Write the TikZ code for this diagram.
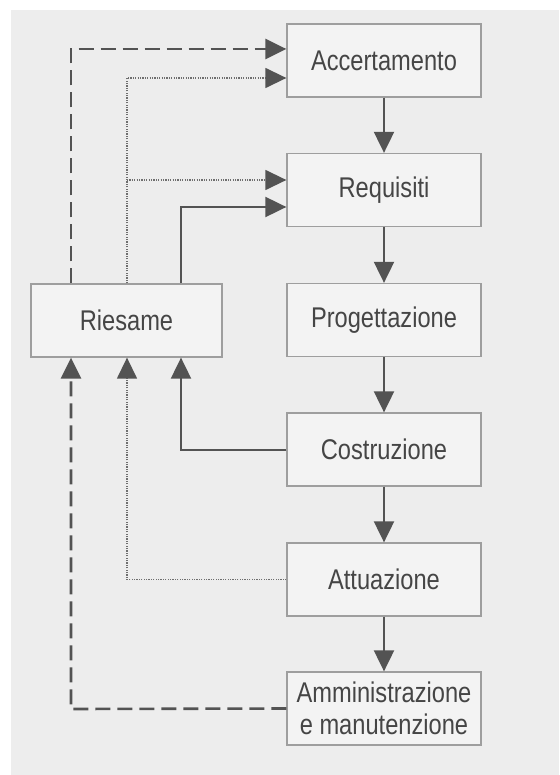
\documentclass[tikz,border=0pt]{standalone}
\usepackage{fontspec}
\setmainfont[FakeStretch=0.83]{Liberation Sans}
\usetikzlibrary{arrows.meta}
\definecolor{pagegrey}{HTML}{EDEDED}
\definecolor{boxfill}{HTML}{F3F3F3}
\definecolor{boxline}{HTML}{9E9E9E}
\definecolor{inkgrey}{HTML}{535353}
\definecolor{dotgrey}{HTML}{6E6E6E}
\definecolor{textgrey}{HTML}{454545}
\begin{document}
\begin{tikzpicture}[x=1pt,y=-1pt,
  phase/.style={draw=boxline, line width=1.3pt, fill=boxfill,
    minimum width=194pt, minimum height=73pt, inner sep=0pt,
    text=textgrey, align=center,
    font=\fontsize{28.5}{32.5}\selectfont},
  tip/.style={-{Triangle[length=21pt,width=20pt,color=inkgrey]}},
  flow/.style={draw=inkgrey, line width=2pt, tip},
  solidback/.style={draw=inkgrey, line width=2pt},
  dashback/.style={draw=inkgrey, line width=2.6pt, dash pattern=on 15pt off 7pt},
  dotback/.style={draw=dotgrey, line width=1.4pt, dash pattern=on 1.2pt off 1.2pt}]

% page
\useasboundingbox (0,0) rectangle (559,775);
\fill[white] (0,0) rectangle (559,775);
\fill[pagegrey] (11,10) rectangle (559,775);

% phases
\node[phase] (acc) at (384,60.5) {Accertamento};
\node[phase] (req) at (384,190) {Requisiti};
\node[phase] (prog) at (384,320) {Progettazione};
\node[phase] (cost) at (384,449.5) {Costruzione};
\node[phase] (att) at (384,579.5) {Attuazione};
\node[phase] (amm) at (384,708.5) {Amministrazione\\e manutenzione};
\node[phase, minimum width=191pt] (ries) at (126.5,320.5) {Riesame};

% main sequence
\draw[flow] (acc) -- (req);
\draw[flow] (req) -- (prog);
\draw[flow] (prog) -- (cost);
\draw[flow] (cost) -- (att);
\draw[flow] (att) -- (amm);

% feedback lanes
\coordinate (dashtop) at (71,49);
\coordinate (dottop) at (127,78);
\coordinate (dotmid) at (127,180);
\coordinate (soltop) at (181,207);
\coordinate (dashlow) at (71,709);
\coordinate (dotlow) at (127,579.5);
\coordinate (sollow) at (181,449.5);

% into Riesame
\draw[dashback, tip] (amm.west) -- (dashlow) -- (ries.south -| dashlow);
\draw[dotback, tip] (att.west) -- (dotlow) -- (ries.south -| dotlow);
\draw[solidback, tip] (cost.west) -- (sollow) -- (ries.south -| sollow);

% out of Riesame
\draw[dashback, tip] (ries.north -| dashtop) -- (dashtop) -- (acc.west |- dashtop);
\draw[dotback, tip] (ries.north -| dottop) -- (dottop) -- (acc.west |- dottop);
\draw[dotback, tip] (dotmid) -- (req.west |- dotmid);
\draw[solidback, tip] (ries.north -| soltop) -- (soltop) -- (req.west |- soltop);
\end{tikzpicture}
\end{document}
